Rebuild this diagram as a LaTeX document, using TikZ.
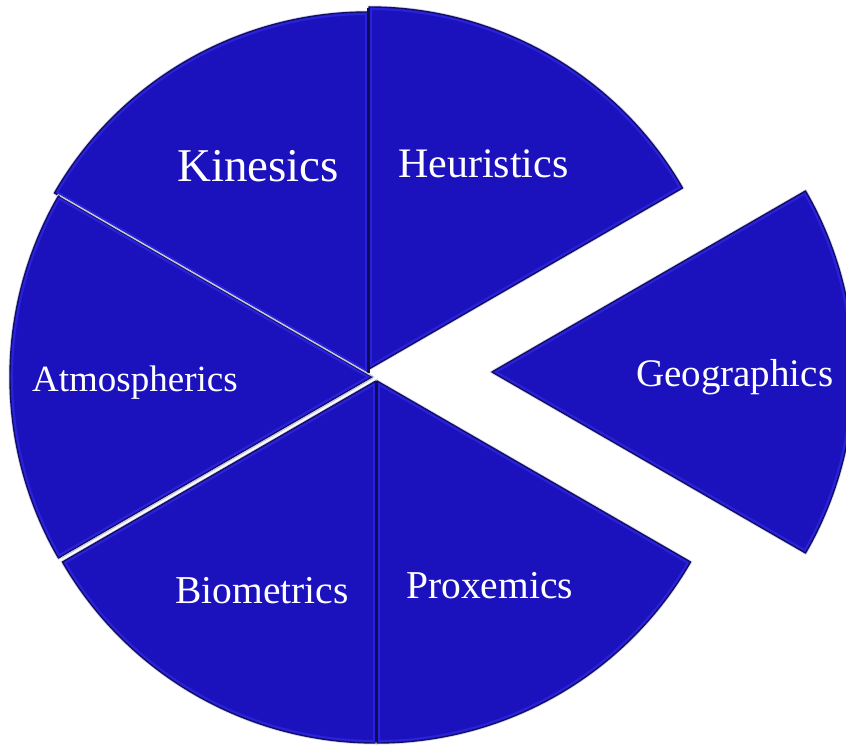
\documentclass[tikz,border=0pt]{standalone}
\usepackage{fontspec}
\setmainfont{Liberation Serif}
\definecolor{pieblue}{RGB}{27,18,190}
\definecolor{pierim}{RGB}{48,40,232}
\definecolor{pieedge}{RGB}{18,14,96}
\definecolor{piedark}{RGB}{16,12,80}
\definecolor{pieglow}{RGB}{212,212,242}
\definecolor{pieline}{RGB}{200,200,215}
\newcommand{\pieslice}[3]{%
  \path[draw=pieglow,line width=3pt] #1 -- ++(#2:362) arc[start angle=#2,end angle=#3,radius=362] -- cycle;
  \begin{scope}
    \clip #1 -- ++(#2:362) arc[start angle=#2,end angle=#3,radius=362] -- cycle;
    \fill[pieblue] #1 -- ++(#2:362) arc[start angle=#2,end angle=#3,radius=362] -- cycle;
    \draw[pierim!70!pieblue,line width=6pt,line join=round] #1 -- ++(#2:362) arc[start angle=#2,end angle=#3,radius=362] -- cycle;
  \end{scope}
  \draw[pieedge,line width=1.4pt,line join=round] #1 -- ++(#2:362) arc[start angle=#2,end angle=#3,radius=362] -- cycle;
}
\tikzset{
  lbl/.style={text=white,inner sep=0pt,anchor=base west},
  darkedge/.style={piedark,line width=2.4pt},
  lightedge/.style={pieline,line width=1.3pt},
}
\begin{document}
\begin{tikzpicture}[x=1pt,y=1pt]
\useasboundingbox (0,0) rectangle (846,745);
\clip (0,0) rectangle (846,745);
\pieslice{(369,376)}{30}{90}
\pieslice{(368,371)}{90}{150}
\pieslice{(372,368)}{150}{210}
\pieslice{(376,364)}{210}{270}
\pieslice{(377,364)}{270}{330}
\pieslice{(492,373)}{-30}{30}
\draw[darkedge] (368.6,372) -- (368.6,737);
\draw[darkedge] (376.6,364) -- (376.6,3);
\draw[lightedge] (372,369) -- ++(150:360);
\draw[lightedge] (373,367) -- ++(210:360);
\node[lbl,font=\fontsize{47}{50}\selectfont] (kin) at (177,563) {Kinesics};
\node[lbl,font=\fontsize{42}{45}\selectfont] (heu) at (398,567) {Heuristics};
\node[lbl,font=\fontsize{37}{40}\selectfont] (atm) at (32,353) {Atmospherics};
\node[lbl,font=\fontsize{39}{42}\selectfont] (geo) at (636,358) {Geographics};
\node[lbl,font=\fontsize{39.5}{42}\selectfont] (bio) at (175,142) {Biometrics};
\node[lbl,font=\fontsize{39.5}{42}\selectfont] (pro) at (406,147) {Proxemics};
\end{tikzpicture}
\end{document}
